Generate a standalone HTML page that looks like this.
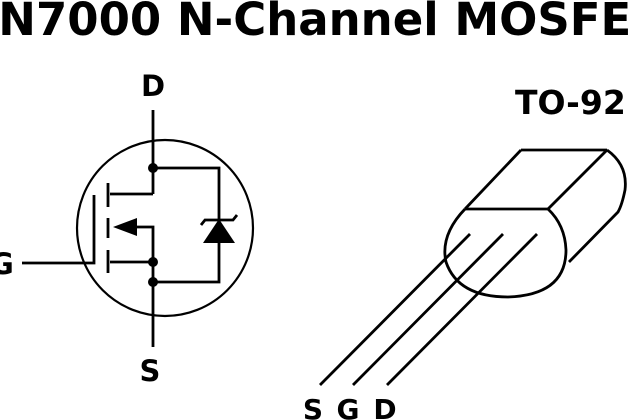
<!DOCTYPE html>
<html><head><meta charset="utf-8"><style>
html,body{margin:0;padding:0;background:#fff;}
svg{display:block;}
text{font-family:"DejaVu Sans","Liberation Sans",sans-serif;font-weight:bold;fill:#000;}
</style></head><body>
<svg width="630" height="420" viewBox="0 0 630 420" xmlns="http://www.w3.org/2000/svg">
<text x="-33" y="35" font-size="45">2N7000 N-Channel MOSFET</text>
<g stroke="#000" stroke-width="2.8" fill="none">
<circle cx="165" cy="228" r="88" stroke-width="2.2"/>
<line x1="153" y1="110" x2="153" y2="194"/>
<polyline points="153,168 219,168 219,282 153,282"/>
<line x1="110" y1="194" x2="153" y2="194"/>
<polyline points="130,227 153,227 153,347"/>
<line x1="110" y1="262" x2="153" y2="262"/>
<line x1="108" y1="183" x2="108" y2="207"/>
<line x1="108" y1="218" x2="108" y2="238"/>
<line x1="108" y1="250" x2="108" y2="273"/>
<polyline points="22,263 94,263 94,195"/>
<polyline points="201,225 205,220 233,220 237,215"/>
</g>
<polygon points="113,227 137,218 137,236" fill="#000"/>
<polygon points="203,243 235,243 219,219" fill="#000"/>
<circle cx="153" cy="168" r="5" fill="#000"/>
<circle cx="153" cy="262" r="5" fill="#000"/>
<circle cx="153" cy="282" r="5" fill="#000"/>
<text x="153" y="96" font-size="29" text-anchor="middle">D</text>
<text x="150" y="381" font-size="29" text-anchor="middle">S</text>
<text x="-10" y="274" font-size="29">G</text>
<text x="515" y="114" font-size="33">TO-92</text>
<g stroke="#000" stroke-width="2.8" fill="none">
<line x1="521" y1="150" x2="607" y2="150"/>
<line x1="521" y1="150" x2="465" y2="209"/>
<line x1="607" y1="150" x2="548" y2="209"/>
<line x1="465" y1="209" x2="548" y2="209"/>
<path d="M607,150 Q628,165 625,190 Q622,205 618,212 L569,262"/>
<path d="M465,209 Q440,235 446,262 Q458,297 508,297 Q566,295 566,250 Q565,225 548,209"/>
<line x1="320" y1="385" x2="470" y2="234"/>
<line x1="353" y1="385" x2="503" y2="234"/>
<line x1="387" y1="385" x2="537" y2="234"/>
</g>
<text x="313" y="419" font-size="28" text-anchor="middle">S</text>
<text x="348" y="419" font-size="28" text-anchor="middle">G</text>
<text x="385" y="419" font-size="28" text-anchor="middle">D</text>
</svg>
</body></html>
